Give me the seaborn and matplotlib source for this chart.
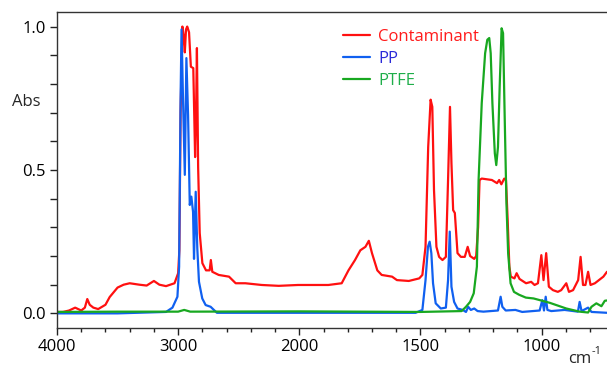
import numpy as np
import pandas as pd
import matplotlib
matplotlib.use("Agg")
import matplotlib.pyplot as plt
import seaborn as sns
from matplotlib.ticker import FixedLocator

# spectra (wavenumber cm-1, absorbance)
cont_wn = [4000, 3950, 3900, 3850, 3800, 3770, 3750, 3730, 3700, 3660, 3600, 3565,
           3500, 3450, 3400, 3320, 3260, 3200, 3155, 3100, 3030, 3000, 2990, 2980,
           2965, 2955, 2945, 2935, 2925, 2910, 2895, 2875, 2860, 2852, 2845, 2835,
           2822, 2800, 2770, 2740, 2730, 2718, 2665, 2580, 2525, 2445, 2310, 2170,
           2010, 1880, 1825, 1797, 1770, 1748, 1727, 1713, 1700, 1678, 1660, 1617,
           1597, 1548, 1505, 1492, 1479, 1468, 1458, 1451, 1444, 1434, 1423, 1409,
           1395, 1386, 1378, 1372, 1365, 1358, 1347, 1333, 1317, 1305, 1295, 1278,
           1270, 1262, 1256, 1247, 1205, 1184, 1175, 1166, 1154, 1147, 1140, 1133,
           1127, 1112, 1103, 1091, 1064, 1043, 1029, 1015, 1001, 992, 981, 970,
           953, 933, 919, 898, 887, 870, 849, 839, 829, 819, 808, 798, 780, 745, 730]
cont_abs = [0.005, 0.005, 0.01, 0.02, 0.01, 0.02, 0.05, 0.03, 0.02, 0.015, 0.03, 0.057,
            0.09, 0.1, 0.105, 0.1, 0.097, 0.113, 0.1, 0.095, 0.105, 0.14, 0.22, 0.7,
            1.0, 0.97, 0.91, 0.99, 1.0, 0.98, 0.86, 0.855, 0.545, 0.7, 0.925, 0.51,
            0.28, 0.175, 0.15, 0.15, 0.186, 0.145, 0.134, 0.128, 0.105, 0.105, 0.099, 0.096,
            0.099, 0.099, 0.105, 0.15, 0.186, 0.22, 0.232, 0.253, 0.21, 0.15, 0.134, 0.128,
            0.116, 0.113, 0.122, 0.134, 0.232, 0.58, 0.745, 0.72, 0.43, 0.232, 0.197, 0.186,
            0.197, 0.465, 0.72, 0.524, 0.36, 0.35, 0.21, 0.197, 0.197, 0.232, 0.2, 0.19,
            0.2, 0.3, 0.465, 0.47, 0.465, 0.454, 0.465, 0.45, 0.47, 0.465, 0.326, 0.163,
            0.128, 0.122, 0.14, 0.12, 0.105, 0.11, 0.099, 0.105, 0.203, 0.116, 0.21, 0.093,
            0.081, 0.075, 0.081, 0.105, 0.075, 0.081, 0.116, 0.197, 0.099, 0.099, 0.145, 0.099, 0.105, 0.128, 0.145]

pp_wn = [4000, 3500, 3100, 3047, 3006, 2992, 2980, 2972, 2960, 2945, 2932, 2918,
         2904, 2891, 2877, 2869, 2855, 2842, 2828, 2801, 2773, 2732, 2705, 2680,
         2000, 1520, 1492, 1479, 1469, 1462, 1455, 1448, 1437, 1416, 1395, 1386,
         1379, 1372, 1361, 1347, 1326, 1312, 1303, 1292, 1278, 1264, 1240, 1180,
         1169, 1162, 1148, 1108, 1080, 1008, 997, 990, 983, 976, 960, 905,
         850, 843, 835, 808, 794, 730]
pp_abs = [0.0, 0.0, 0.005, 0.02, 0.058, 0.163, 0.745, 0.99, 0.75, 0.483, 0.89, 0.69,
          0.378, 0.407, 0.354, 0.19, 0.424, 0.227, 0.11, 0.052, 0.029, 0.023, 0.012, 0.002,
          0.002, 0.002, 0.012, 0.116, 0.232, 0.25, 0.21, 0.105, 0.035, 0.017, 0.02, 0.116,
          0.285, 0.093, 0.04, 0.017, 0.012, 0.005, 0.023, 0.012, 0.017, 0.008, 0.006, 0.01,
          0.058, 0.023, 0.01, 0.012, 0.005, 0.01, 0.046, 0.01, 0.058, 0.012, 0.008, 0.012,
          0.006, 0.04, 0.008, 0.02, 0.005, 0.002]

ptfe_wn = [4000, 3500, 3000, 2950, 2900, 2000, 1500, 1330, 1312, 1295, 1280, 1267,
           1260, 1247, 1233, 1224, 1216, 1210, 1203, 1193, 1187, 1180, 1173, 1165,
           1159, 1152, 1145, 1138, 1128, 1114, 1093, 1065, 1033, 967, 898, 843,
           808, 794, 774, 753, 739, 730]
ptfe_abs = [0.005, 0.006, 0.006, 0.012, 0.006, 0.007, 0.005, 0.008, 0.023, 0.04, 0.07, 0.163,
            0.465, 0.733, 0.907, 0.954, 0.96, 0.907, 0.733, 0.558, 0.517, 0.58, 0.79, 0.994,
            0.977, 0.674, 0.384, 0.21, 0.105, 0.075, 0.065, 0.055, 0.052, 0.037, 0.017, 0.006,
            0.003, 0.023, 0.035, 0.025, 0.044, 0.045]

series = ["Contaminant", "PP", "PTFE"]
line_colors = {"Contaminant": "#ff1010", "PP": "#1060f0", "PTFE": "#18a820"}
text_colors = {"Contaminant": "#ff1a1a", "PP": "#2a2ad8", "PTFE": "#1fae4a"}

df = pd.concat([
    pd.DataFrame({"wn": cont_wn, "abs": cont_abs, "sample": "Contaminant"}),
    pd.DataFrame({"wn": pp_wn, "abs": pp_abs, "sample": "PP"}),
    pd.DataFrame({"wn": ptfe_wn, "abs": ptfe_abs, "sample": "PTFE"}),
])

sns.set_style("white")
plt.rcParams["font.family"] = ["Open Sans", "DejaVu Sans"]


# wavenumber axis is compressed 2x above 2000 cm-1
def fwd(x):
    x = np.asarray(x, dtype=float)
    return np.where(x > 2000, 2000 + (x - 2000) / 2, x)


def inv(y):
    y = np.asarray(y, dtype=float)
    return np.where(y > 2000, 2000 + (y - 2000) * 2, y)


fig = plt.figure(figsize=(6.07, 3.69), dpi=100)
ax = fig.add_axes([57 / 607, 41 / 369, 550 / 607, 315.5 / 369])

for name in series:
    sub = df[df["sample"] == name]
    sns.lineplot(data=sub, x="wn", y="abs", ax=ax, color=line_colors[name],
                 lw=1.6, label=name, estimator=None, sort=False)

ax.set_xscale("function", functions=(fwd, inv))
ax.set_xlim(4000, 730)
ax.set_ylim(-0.051, 1.049)

ax.xaxis.set_major_locator(FixedLocator([4000, 3000, 2000, 1500, 1000]))
ax.xaxis.set_minor_locator(FixedLocator(list(range(4000, 2000, -200)) + list(range(2000, 700, -100))))
ax.set_xticklabels(["4000", "3000", "2000", "1500", "1000"])
ax.yaxis.set_major_locator(FixedLocator([0.0, 0.5, 1.0]))
ax.yaxis.set_minor_locator(FixedLocator(np.arange(0, 1.01, 0.1)))
ax.set_yticklabels(["0.0", "0.5", "1.0"])

ax.tick_params(axis="both", which="both", direction="out", labelsize=12, colors="#222222")
ax.tick_params(axis="x", which="major", length=5, width=1, bottom=True, pad=3)
ax.tick_params(axis="x", which="minor", length=3, width=1, bottom=True)
ax.tick_params(axis="y", which="both", length=5, width=1, left=True, pad=3)
for lab in ax.get_xticklabels() + ax.get_yticklabels():
    lab.set_color("black")

for s in ["left", "bottom", "top"]:
    ax.spines[s].set_color("#333333")
    ax.spines[s].set_linewidth(1.0)
ax.spines["right"].set_visible(False)

ax.set_xlabel("")
ax.set_ylabel("")
fig.text(12 / 607, 1 - 102 / 369, "Abs", fontsize=12, va="center", ha="left")
fig.text(568 / 607, 1 - 359 / 369, "cm", fontsize=12, va="center", ha="left")
fig.text(592 / 607, 1 - 352 / 369, "-1", fontsize=8, va="center", ha="left")

leg = ax.legend(loc="upper left", bbox_to_anchor=(0.508, 0.97), frameon=False,
                fontsize=12, handlelength=1.6, handletextpad=0.5, labelspacing=0.38,
                borderaxespad=0)
for txt, name in zip(leg.get_texts(), series):
    txt.set_color(text_colors[name])

fig.savefig("out.png", dpi=100)
